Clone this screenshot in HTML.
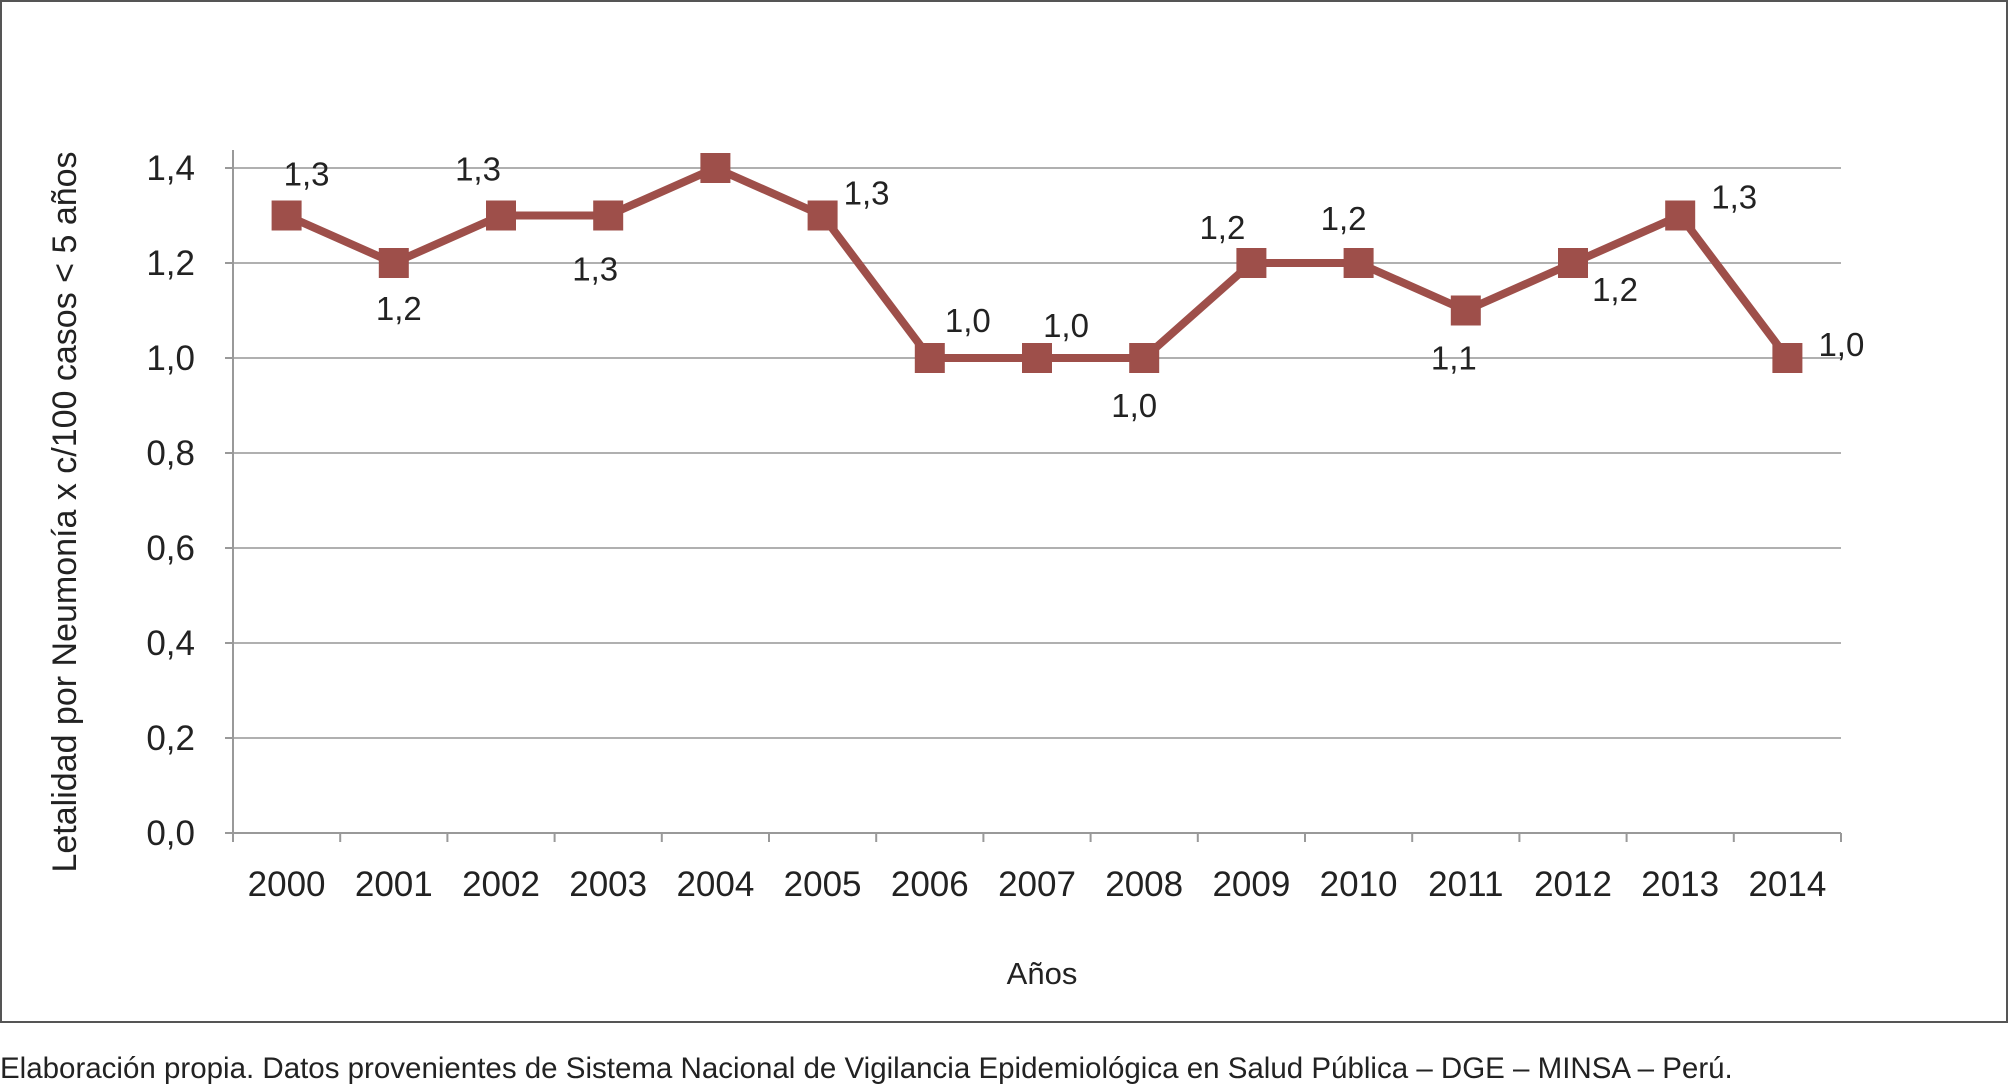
<!DOCTYPE html>
<html><head><meta charset="utf-8"><style>
html,body{margin:0;padding:0;background:#fff;}
svg{display:block;font-family:"Liberation Sans",sans-serif;}
</style></head><body>
<svg id="chart" width="2009" height="1085" viewBox="0 0 2009 1085">
<rect x="1" y="1" width="2006" height="1021" fill="#fff" stroke="#555" stroke-width="2"/>
<g id="grid"></g>
<g id="axes"></g>
<g id="series"></g>
<g id="labels"></g>
<text x="76" y="512" transform="rotate(-90 76 512)" text-anchor="middle" font-size="34" fill="#222">Letalidad por Neumonía x c/100 casos &lt; 5 años</text>
<text x="1042" y="984" text-anchor="middle" font-size="31" fill="#222">Años</text>
<text x="0" y="1078" font-size="29.5" fill="#222">Elaboración propia. Datos provenientes de Sistema Nacional de Vigilancia Epidemiológica en Salud Pública – DGE – MINSA – Perú.</text>
</svg>
<script>
const categories = ["2000","2001","2002","2003","2004","2005","2006","2007","2008","2009","2010","2011","2012","2013","2014"];
const values = [1.3,1.2,1.3,1.3,1.4,1.3,1.0,1.0,1.0,1.2,1.2,1.1,1.2,1.3,1.0];
const valueLabels = ["1,3","1,2","1,3","1,3","","1,3","1,0","1,0","1,0","1,2","1,2","1,1","1,2","1,3","1,0"];
const yTicks = [0,0.2,0.4,0.6,0.8,1.0,1.2,1.4];
const yTickLabels = ["0,0","0,2","0,4","0,6","0,8","1,0","1,2","1,4"];
const labelDX = [20,5,-23,-13,0,44,38,29,-10,-29,-15,-12,42,54,54];
const labelDY = [-30,57,-35,65,0,-11,-26,-21,59,-24,-33,59,38,-7,-2];

const NS="http://www.w3.org/2000/svg";
const L=233,R=1841,B0=833,T=168,YMAX=1.4;
const band=(R-L)/categories.length;
const x=i=>L+band*(i+0.5);
const y=v=>B0-(v/YMAX)*(B0-T);
function mk(tag,attrs,parent){const e=document.createElementNS(NS,tag);for(const k in attrs)e.setAttribute(k,attrs[k]);parent.appendChild(e);return e;}
const grid=document.getElementById('grid'),axes=document.getElementById('axes'),series=document.getElementById('series'),labels=document.getElementById('labels');
yTicks.forEach((t,i)=>{
  if(t>0){const g=mk('line',{x1:L,x2:R,y1:y(t),y2:y(t),stroke:'#b0b0b0','stroke-width':2},grid);
  
  }
  const tk=mk('line',{x1:L-8,x2:L,y1:y(t),y2:y(t),stroke:'#999','stroke-width':2},axes);
  
  
  const tx=mk('text',{x:L-38,y:y(t)+12,'text-anchor':'end','font-size':35,fill:'#222'},axes);
  tx.textContent=yTickLabels[i];
  
  
});
const ax=mk('line',{x1:L,x2:L,y1:T-18,y2:B0,stroke:'#999','stroke-width':2},axes);


const bx=mk('line',{x1:L,x2:R,y1:B0,y2:B0,stroke:'#999','stroke-width':2},axes);


for(let i=0;i<=categories.length;i++){
  const tk=mk('line',{x1:L+band*i,x2:L+band*i,y1:B0,y2:B0+9,stroke:'#999','stroke-width':2},axes);
  
  
}
categories.forEach((c,i)=>{
  const tx=mk('text',{x:x(i),y:B0+63,'text-anchor':'middle','font-size':35,fill:'#222'},axes);
  tx.textContent=c;
  
  
});
const pl=mk('polyline',{points:values.map((v,i)=>x(i)+','+y(v)).join(' '),fill:'none',stroke:'#9e4f4a','stroke-width':8,'stroke-linejoin':'round'},series);


values.forEach((v,i)=>{
  const s=mk('rect',{x:x(i)-15,y:y(v)-15,width:30,height:30,fill:'#9e4f4a'},series);
  
  
  if(!valueLabels[i])return;
  const tx=mk('text',{x:x(i)+labelDX[i],y:y(v)+labelDY[i],'text-anchor':'middle','font-size':33,fill:'#222'},labels);
  tx.textContent=valueLabels[i];
  
  
});
</script>
</body></html>
